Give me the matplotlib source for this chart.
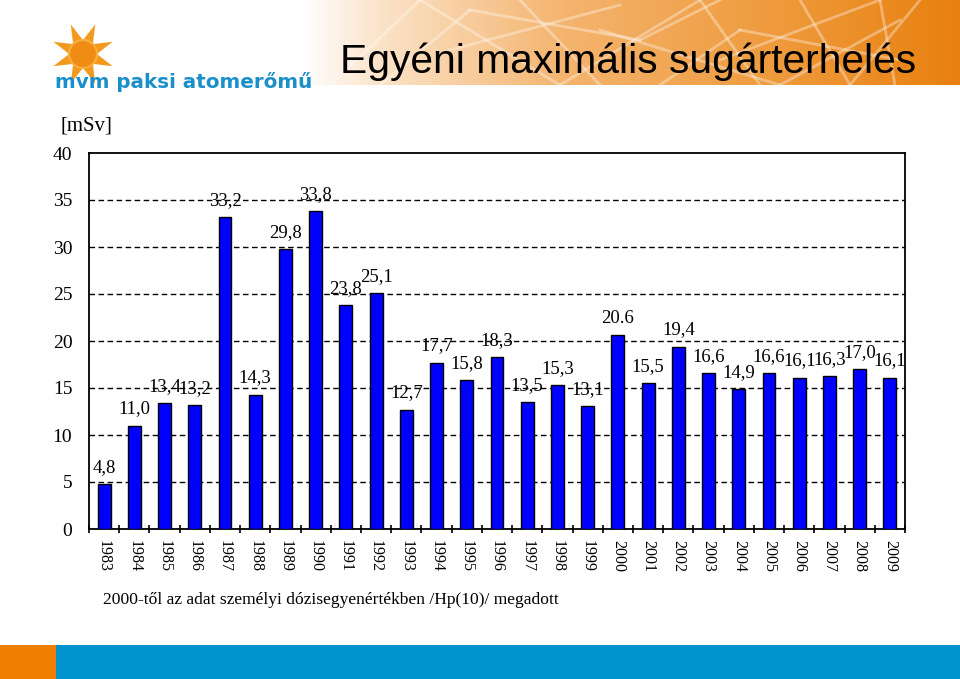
import numpy as np
import matplotlib
matplotlib.use("Agg")
import matplotlib.pyplot as plt
from matplotlib.patches import Rectangle, Circle, Polygon
from matplotlib.colors import LinearSegmentedColormap

years = [str(y) for y in range(1983, 2010)]
values = [4.8, 11.0, 13.4, 13.2, 33.2, 14.3, 29.8, 33.8, 23.8, 25.1, 12.7, 17.7, 15.8, 18.3,
          13.5, 15.3, 13.1, 20.6, 15.5, 19.4, 16.6, 14.9, 16.6, 16.1, 16.3, 17.0, 16.1]
value_labels = ["4,8", "11,0", "13,4", "13,2", "33,2", "14,3", "29,8", "33,8", "23,8", "25,1",
                "12,7", "17,7", "15,8", "18,3", "13,5", "15,3", "13,1", "20.6", "15,5", "19,4",
                "16,6", "14,9", "16,6", "16,1", "16,3", "17,0", "16,1"]
yticks = [0, 5, 10, 15, 20, 25, 30, 35, 40]

title = "Egyéni maximális sugárterhelés"
unit = "[mSv]"
note = "2000-től az adat személyi dózisegyenértékben /Hp(10)/ megadott"
logo_text = "mvm paksi atomerőmű"

W, H = 960, 679
fig = plt.figure(figsize=(W / 100, H / 100), dpi=100)
fig.patch.set_facecolor("white")

# ---- decoration layer (pixel coords) ----
bg = fig.add_axes([0, 0, 1, 1], zorder=0)
bg.set_xlim(0, W)
bg.set_ylim(H, 0)
bg.axis("off")

cmap = LinearSegmentedColormap.from_list(
    "banner", [(0.0, "#ffffff"), (0.12, "#fbe3c8"), (0.4, "#f4b46e"),
               (0.75, "#ee9838"), (1.0, "#e8800f")])
grad = np.linspace(0, 1, 400).reshape(1, -1)
bg.imshow(grad, cmap=cmap, extent=[300, 960, 85, 0], aspect="auto", zorder=1)
segs = [((330, 85), (420, 0)), ((380, 85), (470, 10)), ((420, 0), (560, 85)),
        ((470, 10), (640, 40)), ((520, 0), (600, 85)), ((560, 85), (700, 0)),
        ((600, 30), (780, 85)), ((640, 40), (720, 0)), ((700, 0), (760, 85)),
        ((720, 60), (880, 0)), ((780, 85), (900, 20)), ((800, 0), (850, 85)),
        ((850, 85), (920, 0)), ((880, 0), (895, 85)), ((450, 50), (620, 5)),
        ((660, 85), (740, 30)), ((740, 30), (900, 60))]
for (x0, y0), (x1, y1) in segs:
    bg.plot([x0, x1], [y0, y1], color="white", alpha=0.35, lw=2.0, zorder=2)

bg.text(340, 73, title, fontsize=29.3, family="Liberation Sans", color="black",
        ha="left", va="baseline", zorder=3)

# logo sun
cx, cy = 83, 54
for k in range(8):
    a = np.deg2rad(k * 45 + 22.5)
    tip = (cx + 32 * np.cos(a), cy + 32 * np.sin(a))
    l = (cx + 13 * np.cos(a + 0.45), cy + 13 * np.sin(a + 0.45))
    r = (cx + 13 * np.cos(a - 0.45), cy + 13 * np.sin(a - 0.45))
    bg.add_patch(Polygon([tip, l, r], closed=True, facecolor="#f39a1e", edgecolor="none", zorder=2))
bg.add_patch(Circle((cx, cy), 14, facecolor="#f08c14", edgecolor="#f6b040", lw=1.5, zorder=3))
bg.text(55, 88, logo_text, fontsize=14.3, fontweight="bold", family="DejaVu Sans",
        color="#1b8fc9", ha="left", va="baseline", zorder=4)

# bottom bars
bg.add_patch(Rectangle((0, 645), 56, 34, facecolor="#ee7f00", edgecolor="none", zorder=1))
bg.add_patch(Rectangle((56, 645), 904, 34, facecolor="#0093d0", edgecolor="none", zorder=1))

bg.text(60, 126, unit, fontsize=15, family="Liberation Serif", ha="left", va="center")
bg.text(103, 600, note, fontsize=12.6, family="Liberation Serif", ha="left", va="center")

# ---- chart ----
left, right, top, bottom = 89, 905, 153, 529
ax = fig.add_axes([left / W, 1 - bottom / H, (right - left) / W, (bottom - top) / H], zorder=5)
ax.set_facecolor("none")
x = np.arange(len(years))
ax.bar(x, values, width=0.43, color="#0000ff", edgecolor="black", linewidth=1.0, zorder=3)
ax.set_xlim(-0.5, len(years) - 0.5)
ax.set_ylim(0, 40)
ax.set_yticks(yticks)
ax.set_yticklabels([str(v) for v in yticks], family="Liberation Serif", fontsize=14)
ax.tick_params(axis="y", length=0, pad=12)
for yv in yticks[1:-1]:
    ax.axhline(yv, color="black", lw=1.0, ls=(0, (4, 2.5)), zorder=1)

ax.set_xticks(x)
ax.set_xticklabels(years, rotation=270, family="Liberation Serif", fontsize=11.5, va="top")
ax.tick_params(axis="x", which="major", length=0, pad=8)
ax.set_xticks(np.arange(-0.5, len(years)), minor=True)
ax.tick_params(axis="x", which="minor", length=6, direction="inout", width=1.2)

for s in ax.spines.values():
    s.set_linewidth(1.3)
    s.set_color("black")

for xi, v, lab in zip(x, values, value_labels):
    ax.annotate(lab, (xi, v), xytext=(0, 12), textcoords="offset points",
                ha="center", va="center", fontsize=13.5, family="Liberation Serif", zorder=4)

fig.savefig("out.png", dpi=100)
